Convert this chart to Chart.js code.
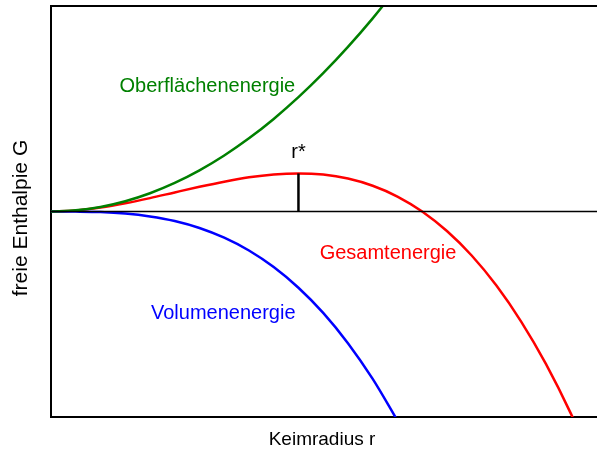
<!DOCTYPE html>
<html>
<head>
<meta charset="utf-8">
<script src="https://cdn.jsdelivr.net/npm/chart.js@4.4.1/dist/chart.umd.min.js"></script>
<style>
  html, body { margin: 0; padding: 0; background: #fff; }
  #wrap { width: 597px; height: 453px; position: relative; }
</style>
</head>
<body>
<div id="wrap"><canvas id="chart" width="597" height="453"></canvas></div>
<script>
// --- data (arbitrary units, r* = 1) ---
const radius = [0, 0.1, 0.2, 0.3, 0.4, 0.5, 0.6, 0.7, 0.8, 0.9, 1.0, 1.1, 1.2, 1.3, 1.4,
                1.5, 1.6, 1.7, 1.8, 1.9, 2.0, 2.1, 2.2];
const surface = [0, 0.01, 0.04, 0.09, 0.16, 0.25, 0.36, 0.49, 0.64, 0.81, 1.0, 1.21, 1.44, 1.69, 1.96];
const volume = [0, -0.001, -0.005, -0.018, -0.043, -0.083, -0.144, -0.229, -0.341, -0.486, -0.667,
                -0.887, -1.152, -1.465, -1.829];
const total = [0, 0.009, 0.035, 0.072, 0.117, 0.167, 0.216, 0.261, 0.299, 0.324, 0.333, 0.323,
               0.288, 0.225, 0.131, 0, -0.171, -0.385, -0.648, -0.963, -1.333, -1.764, -2.259];
const rCrit = 1.0;
const gCrit = 0.333;

const labels = {
  surface: "Oberflächenenergie",
  volume: "Volumenenergie",
  total: "Gesamtenergie",
  crit: "r*",
  xTitle: "Keimradius r",
  yTitle: "freie Enthalpie G"
};

const pts = (ys) => ys.map((y, i) => ({ x: radius[i], y }));

const lineStyle = { fill: false, pointRadius: 0, borderWidth: 2.5, cubicInterpolationMode: "monotone" };

// labels + titles + top border
const annotate = {
  id: "annotate",
  afterDraw(chart) {
    const { ctx, chartArea: a, scales: { x, y } } = chart;
    ctx.save();
    ctx.strokeStyle = "#000";
    ctx.lineWidth = 2;
    ctx.beginPath();
    ctx.moveTo(a.left, a.top);
    ctx.lineTo(chart.width, a.top);
    ctx.stroke();

    const font = (px) => px + "px 'Liberation Sans', Arial, sans-serif";
    ctx.font = font(20);
    ctx.textAlign = "center";
    ctx.textBaseline = "middle";
    ctx.fillStyle = "#008000";
    ctx.fillText(labels.surface, x.getPixelForValue(0.632), y.getPixelForValue(1.096));
    ctx.fillStyle = "#ff0000";
    ctx.fillText(labels.total, x.getPixelForValue(1.362), y.getPixelForValue(-0.368));
    ctx.fillStyle = "#0000ff";
    ctx.fillText(labels.volume, x.getPixelForValue(0.696), y.getPixelForValue(-0.895));
    ctx.fillStyle = "#000";
    ctx.fillText(labels.crit, x.getPixelForValue(rCrit), y.getPixelForValue(gCrit) - 21);
    ctx.font = font(19);
    ctx.fillText(labels.xTitle, 322, 440);
    ctx.font = font(21);
    ctx.translate(21, 218);
    ctx.rotate(-Math.PI / 2);
    ctx.fillText(labels.yTitle, 0, 0);
    ctx.restore();
  }
};

new Chart(document.getElementById("chart"), {
  type: "line",
  data: {
    datasets: [
      { data: [{ x: 0, y: 0 }, { x: 2.3, y: 0 }], borderColor: "#000", borderWidth: 1.5, pointRadius: 0 },
      { data: [{ x: rCrit, y: 0 }, { x: rCrit, y: gCrit }], borderColor: "#000", borderWidth: 2.5, pointRadius: 0 },
      { ...lineStyle, data: pts(surface), borderColor: "#008000" },
      { ...lineStyle, data: pts(volume), borderColor: "#0000ff" },
      { ...lineStyle, data: pts(total), borderColor: "#ff0000" }
    ]
  },
  options: {
    responsive: false,
    animation: false,
    layout: { padding: { left: 51, top: 6, right: 0, bottom: 36 } },
    plugins: { legend: { display: false }, tooltip: { enabled: false } },
    scales: {
      x: {
        type: "linear", min: 0, max: 2.2065,
        ticks: { display: false },
        grid: { display: false, drawTicks: false },
        border: { display: true, color: "#000", width: 2 }
      },
      y: {
        min: -1.798, max: 1.798,
        ticks: { display: false },
        grid: { display: false, drawTicks: false },
        border: { display: true, color: "#000", width: 2 }
      }
    }
  },
  plugins: [annotate]
});
</script>
</body>
</html>
